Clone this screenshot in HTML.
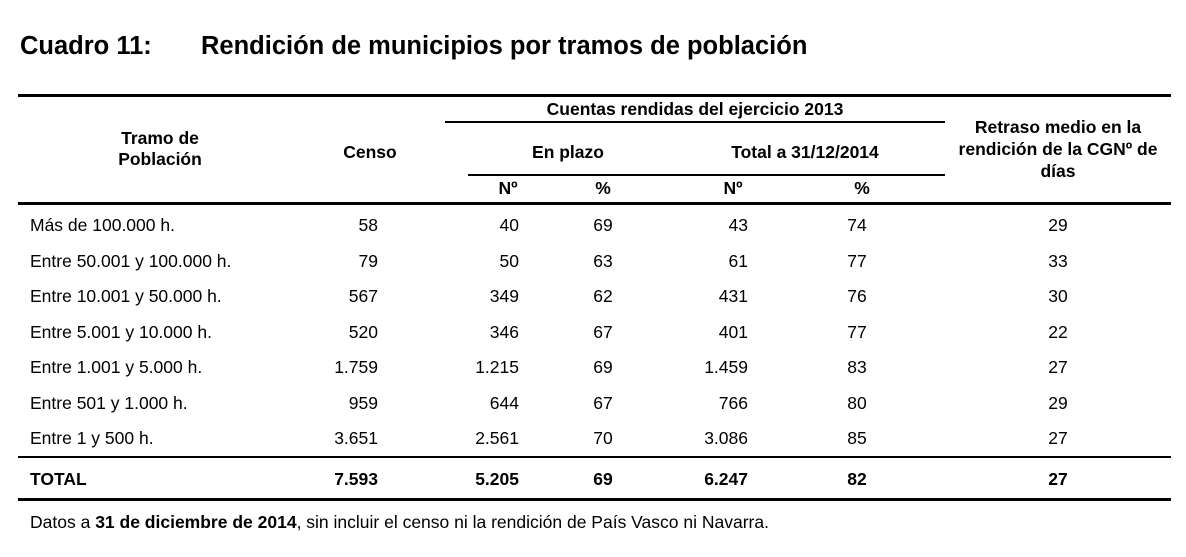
<!DOCTYPE html>
<html><head><meta charset="utf-8"><style>
body{margin:0;width:1186px;height:557px;background:#fff;position:relative;font-family:"Liberation Sans",Arial,sans-serif;color:#000;overflow:hidden}
.t{position:absolute;white-space:nowrap;font-size:17.5px;line-height:20px}
.b{font-weight:bold}
.r{text-align:right}
.c{text-align:center}
.l{position:absolute;background:#000}
</style></head><body>
<div class="t b" style="left:20px;top:32px;font-size:25.5px;line-height:28px">Cuadro 11:</div>
<div class="t b" style="left:201px;top:32px;font-size:25.5px;line-height:28px">Rendición de municipios por tramos de población</div>

<div class="l" style="left:18px;top:94px;width:1153px;height:3px"></div>
<div class="l" style="left:445px;top:121px;width:500px;height:2px"></div>
<div class="l" style="left:468px;top:174px;width:477px;height:2px"></div>
<div class="l" style="left:18px;top:202px;width:1153px;height:3px"></div>
<div class="l" style="left:18px;top:456px;width:1153px;height:2px"></div>
<div class="l" style="left:18px;top:498px;width:1153px;height:3px"></div>

<div class="t b c" style="left:50px;width:220px;top:128px;line-height:21px">Tramo de<br>Población</div>
<div class="t b c" style="left:320px;width:100px;top:142px">Censo</div>
<div class="t b c" style="left:445px;width:500px;top:99px">Cuentas rendidas del ejercicio 2013</div>
<div class="t b c" style="left:468px;width:200px;top:142px">En plazo</div>
<div class="t b c" style="left:705px;width:200px;top:142px">Total a 31/12/2014</div>
<div class="t b c" style="left:468px;width:80px;top:178px">Nº</div>
<div class="t b c" style="left:563px;width:80px;top:178px">%</div>
<div class="t b c" style="left:693px;width:80px;top:178px">Nº</div>
<div class="t b c" style="left:822px;width:80px;top:178px">%</div>
<div class="t b c" style="left:945px;width:226px;top:116px;line-height:22px">Retraso medio en la<br>rendición de la CGNº de<br>días</div>

<div id="rows"></div>
<script>
var rows=[
["Más de 100.000 h.","58","40","69","43","74","29"],
["Entre 50.001 y 100.000 h.","79","50","63","61","77","33"],
["Entre 10.001 y 50.000 h.","567","349","62","431","76","30"],
["Entre 5.001 y 10.000 h.","520","346","67","401","77","22"],
["Entre 1.001 y 5.000 h.","1.759","1.215","69","1.459","83","27"],
["Entre 501 y 1.000 h.","959","644","67","766","80","29"],
["Entre 1 y 500 h.","3.651","2.561","70","3.086","85","27"],
["TOTAL","7.593","5.205","69","6.247","82","27"]];
var ys=[215,251,286,322,357,393,428,469];
var h="";
rows.forEach(function(r,i){
 var y=ys[i], b=i==7?" b":"";
 h+='<div class="t'+b+'" style="left:30px;top:'+y+'px">'+r[0]+'</div>';
 h+='<div class="t r'+b+'" style="left:278px;width:100px;top:'+y+'px">'+r[1]+'</div>';
 h+='<div class="t r'+b+'" style="left:419px;width:100px;top:'+y+'px">'+r[2]+'</div>';
 h+='<div class="t c'+b+'" style="left:563px;width:80px;top:'+y+'px">'+r[3]+'</div>';
 h+='<div class="t r'+b+'" style="left:648px;width:100px;top:'+y+'px">'+r[4]+'</div>';
 h+='<div class="t c'+b+'" style="left:817px;width:80px;top:'+y+'px">'+r[5]+'</div>';
 h+='<div class="t c'+b+'" style="left:1018px;width:80px;top:'+y+'px">'+r[6]+'</div>';
});
document.getElementById("rows").innerHTML=h;
</script>
<div class="t" style="left:30px;top:512px">Datos a <b>31 de diciembre de 2014</b>, sin incluir el censo ni la rendición de País Vasco ni Navarra.</div>
</body></html>
